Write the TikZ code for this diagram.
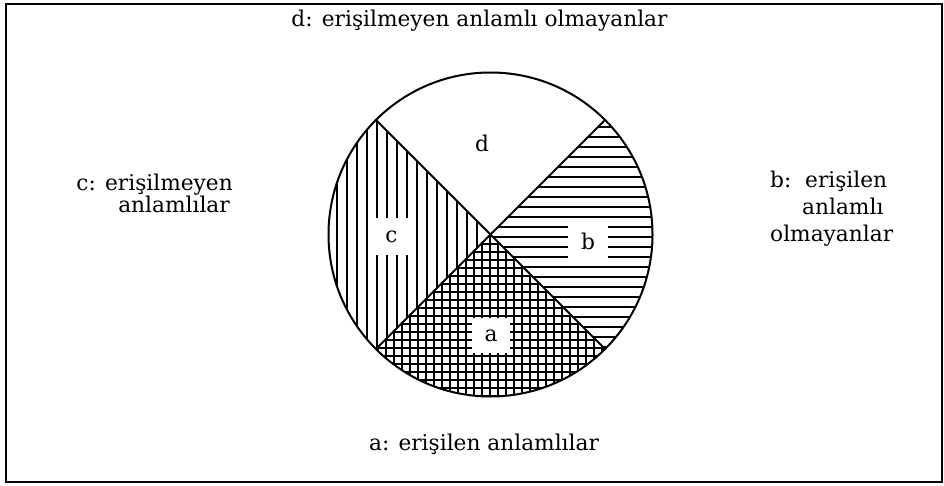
\documentclass[tikz,border=0pt]{standalone}
\usepackage{fontspec}
\setmainfont{DejaVu Serif}
\begin{document}
\begin{tikzpicture}[x=1pt,y=-1pt,
  txt/.style={font=\fontsize{21.7}{22}\selectfont, inner sep=0pt},
  outline/.style={line width=2pt},
  hatch/.style={line width=2pt},
  gridline/.style={line width=1.5pt},
  lbl/.style={font=\fontsize{21.7}{22}\selectfont, fill=white, inner sep=0pt, minimum width=36pt, minimum height=35pt}]
\useasboundingbox (0,0) rectangle (944,486);
\node[draw, line width=1.4pt, minimum width=936pt, minimum height=478pt, inner sep=0pt] (frame) at (474,243) {};
\coordinate (O) at (490.5,234.5);
\coordinate (tl) at (376,120);
\coordinate (tr) at (605,120);
\coordinate (bl) at (376,349);
\coordinate (br) at (605,349);
% region c: vertical hatching
\begin{scope}
  \clip (O) circle[radius=162];
  \clip (O) -- ++(-300,-300) -- ++(0,600) -- cycle;
  \foreach \i in {0,...,16} \draw[hatch] ({477-10*\i},0) -- ({477-10*\i},486);
\end{scope}
% region b: horizontal hatching
\begin{scope}
  \clip (O) circle[radius=162];
  \clip (O) -- ++(300,-300) -- ++(0,600) -- cycle;
  \foreach \i in {-12,...,18} \draw[hatch] (300,{217+10*\i}) -- (700,{217+10*\i});
\end{scope}
% region a: cross hatching
\begin{scope}
  \clip (O) circle[radius=162];
  \clip (O) -- ++(-300,300) -- ++(600,0) -- cycle;
  \foreach \i in {-22,...,22} \draw[gridline] ({490+8*\i},200) -- ({490+8*\i},420);
  \foreach \i in {0,...,22} \draw[gridline] (300,{236+8*\i}) -- (700,{236+8*\i});
\end{scope}
\draw[outline] (O) circle[radius=162];
\draw[outline] (tl) -- (O) -- (br);
\draw[outline] (tr) -- (O) -- (bl);
% circle labels
\node[txt] (ld) at (482,143) {d};
\node[lbl, minimum width=33pt, minimum height=37pt] (lc) at (391.5,236.5) {c};
\node[lbl, minimum width=40pt, minimum height=33pt] (lb) at (588,241.5) {b};
\node[lbl, minimum width=38pt, minimum height=35pt] (la) at (491,335.5) {a};
% outer texts
\node[txt, anchor=base] (td) at (479.5,27) {d: erişilmeyen anlamlı olmayanlar};
\node[txt, anchor=base] (ta) at (484,450) {a: erişilen anlamlılar};
\node[txt, anchor=base east] (tc1) at (233,190.5) {c: erişilmeyen};
\node[txt, anchor=base east] (tc2) at (230,213) {anlamlılar};
\node[txt, anchor=base west] (tb1) at (770,188) {b:\ \ erişilen};
\node[txt, anchor=base west] (tb2) at (802,215) {anlamlı};
\node[txt, anchor=base west] (tb3) at (770,241.5) {olmayanlar};
\end{tikzpicture}
\end{document}
